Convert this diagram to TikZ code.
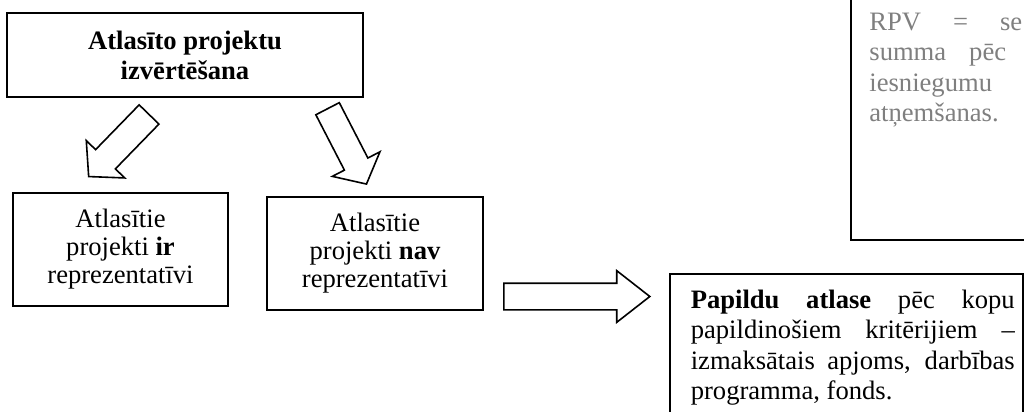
\documentclass[tikz,border=0pt]{standalone}
\usepackage{fontspec}
\setmainfont{Liberation Serif}
\usetikzlibrary{shapes.arrows,positioning}
\definecolor{notegray}{HTML}{7F7F7F}
\tolerance=10000
\hyphenpenalty=10000

\begin{document}
\begin{tikzpicture}[x=0.5pt, y=-0.5pt,
  box/.style = {draw, line width=0.8pt, align=center, inner sep=0pt, font=\fontsize{13.3}{14}\selectfont},
  blockarrow/.style = {draw, single arrow, line width=0.8pt, inner xsep=0pt, inner ysep=6.5pt, single arrow head extend=6.5pt}]
  \useasboundingbox (0,0) rectangle (1024,412);
  \clip (0,0) rectangle (1024,412);
  % boxes
  \node[box, minimum width=178pt, minimum height=42pt, font=\bfseries\fontsize{13.3}{15}\selectfont] (eval) at (185,55) {Atlasīto projektu\\izvērtēšana};
  \node[box, minimum width=107.5pt, minimum height=56.5pt] (rep) at (120.5,249.5) {Atlasītie\\projekti \textbf{ir}\\reprezentatīvi};
  \node[box, minimum width=108pt, minimum height=56.5pt] (nrep) at (375,253.5) {Atlasītie\\projekti \textbf{nav}\\reprezentatīvi};
  \node[box, align=justify, text width=168.5pt, inner xsep=4pt, inner ysep=8pt, anchor=north west, font=\fontsize{13.3}{15.25}\selectfont] (extra) at (669,273) {\leftskip=6.5pt \textbf{Papildu atlase} pēc kopu\linebreak papildinošiem kritērijiem –\linebreak izmaksātais apjoms, darbības\linebreak programma, fonds.\par\vspace{24pt}};
  \node[draw, line width=1pt, anchor=south west, minimum width=120pt, minimum height=140pt] (rpvbox) at (850,241) {};
  \node[anchor=base west, inner sep=0pt, align=left, text=notegray, font=\fontsize{13.3}{15.25}\selectfont] (rpv) at (869,121.5) {RPV\hspace{16pt}=\hspace{16pt}se\\summa\hspace{11.5pt}pēc\\iesniegumu\\atņemšanas.};
  % arrows
  \node[blockarrow, minimum height=43.3pt, single arrow tip angle=96, rotate=225.8, anchor=tail] (toRep) at (149.6,113.9) {};
  \node[blockarrow, inner ysep=6.2pt, single arrow head extend=6.8pt, minimum height=42.4pt, single arrow tip angle=100, rotate=-62.7, anchor=tail] (toNrep) at (327.2,108) {};
  \node[blockarrow, inner ysep=6.25pt, single arrow head extend=6.25pt, minimum height=73pt, single arrow tip angle=76, anchor=tail] (toExtra) at (503,296.5) {};
\end{tikzpicture}
\end{document}
